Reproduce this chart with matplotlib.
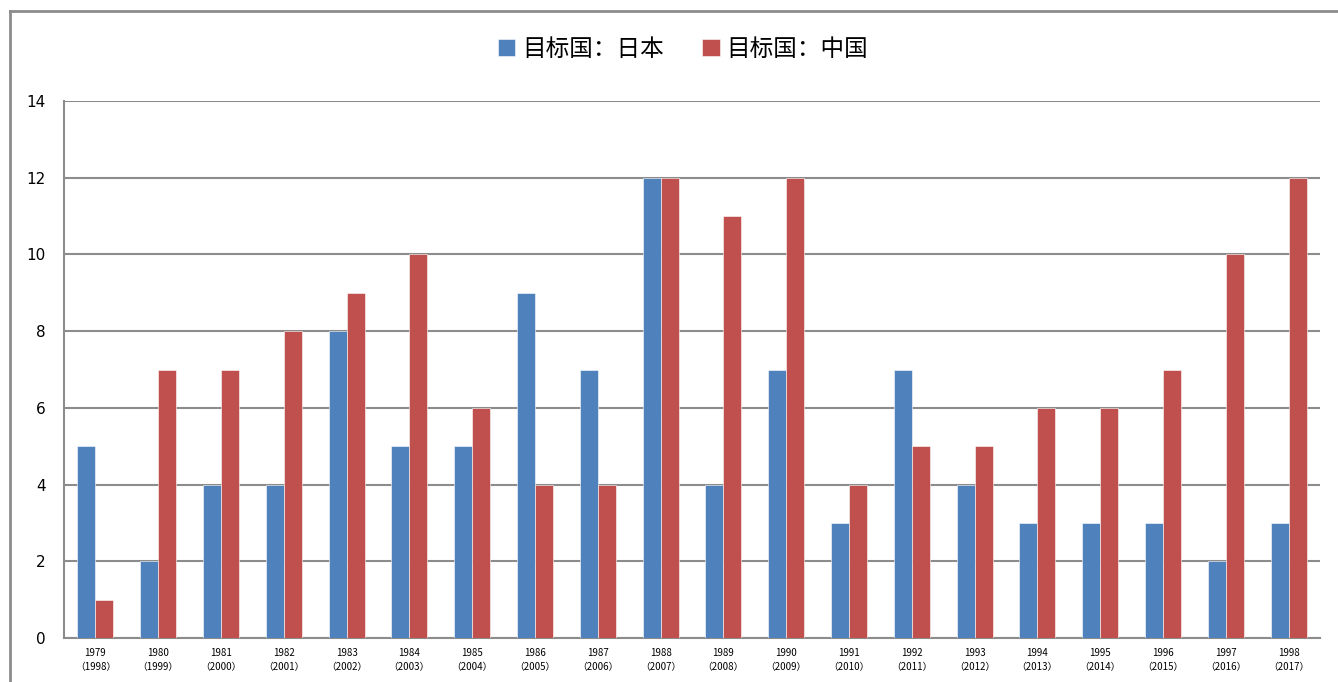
import matplotlib
matplotlib.use("Agg")
import matplotlib.pyplot as plt
import numpy as np
from matplotlib.lines import Line2D

plt.rcParams['font.family'] = ['Noto Sans CJK SC', 'DejaVu Sans']

years = ["1979", "1980", "1981", "1982", "1983", "1984", "1985", "1986", "1987", "1988",
         "1989", "1990", "1991", "1992", "1993", "1994", "1995", "1996", "1997", "1998"]
years2 = ["1998", "1999", "2000", "2001", "2002", "2003", "2004", "2005", "2006", "2007",
          "2008", "2009", "2010", "2011", "2012", "2013", "2014", "2015", "2016", "2017"]
japan = [5, 2, 4, 4, 8, 5, 5, 9, 7, 12, 4, 7, 3, 7, 4, 3, 3, 3, 2, 3]
china = [1, 7, 7, 8, 9, 10, 6, 4, 4, 12, 11, 12, 4, 5, 5, 6, 6, 7, 10, 12]
series_names = ["目标国：日本", "目标国：中国"]
labels = [f"{a}\n（{b}）" for a, b in zip(years, years2)]

W, H = 1338, 682
fig = plt.figure(figsize=(W / 100, H / 100), dpi=100)
ax = fig.add_axes([64 / W, 1 - 638 / H, (1320 - 64) / W, (638 - 101) / H])

x = np.arange(len(years))
bw = 0.287
c1, c2 = "#4F81BD", "#C0504D"
ax.bar(x - bw / 2, japan, bw, color=c1, edgecolor="#ffffff", linewidth=0.4, zorder=3,
       label=series_names[0])
ax.bar(x + bw / 2, china, bw, color=c2, edgecolor="#ffffff", linewidth=0.4, zorder=3,
       label=series_names[1])

ax.set_xlim(-0.5, len(years) - 0.5)
ax.set_ylim(0, 14)
ax.set_yticks(range(0, 15, 2))
ax.yaxis.grid(True, color="#8c8c8c", linewidth=1.5, zorder=0)
ax.set_axisbelow(True)
for s in ["top", "right"]:
    ax.spines[s].set_visible(False)
for s in ["left", "bottom"]:
    ax.spines[s].set_color("#8c8c8c")
    ax.spines[s].set_linewidth(1.5)
ax.tick_params(axis="y", length=0, pad=13, labelsize=11)
ax.tick_params(axis="x", length=0, pad=7, labelsize=7)
ax.set_xticks(x)
ax.set_xticklabels(labels, linespacing=1.6)
for t in ax.get_yticklabels():
    t.set_family(["DejaVu Sans"])

# outer chart border
fig.add_artist(Line2D([10 / W, 1], [1 - 11 / H, 1 - 11 / H], color="#8c8c8c", lw=2,
                      transform=fig.transFigure))
fig.add_artist(Line2D([10 / W, 10 / W], [1 - 11 / H, 0], color="#8c8c8c", lw=2,
                      transform=fig.transFigure))

fig.legend(loc="center", bbox_to_anchor=(683 / W, 1 - 49 / H), ncol=2, frameon=False,
           fontsize=17, handlelength=0.75, handleheight=0.75, handletextpad=0.3,
           columnspacing=1.6)

fig.savefig("out.png", dpi=100)
